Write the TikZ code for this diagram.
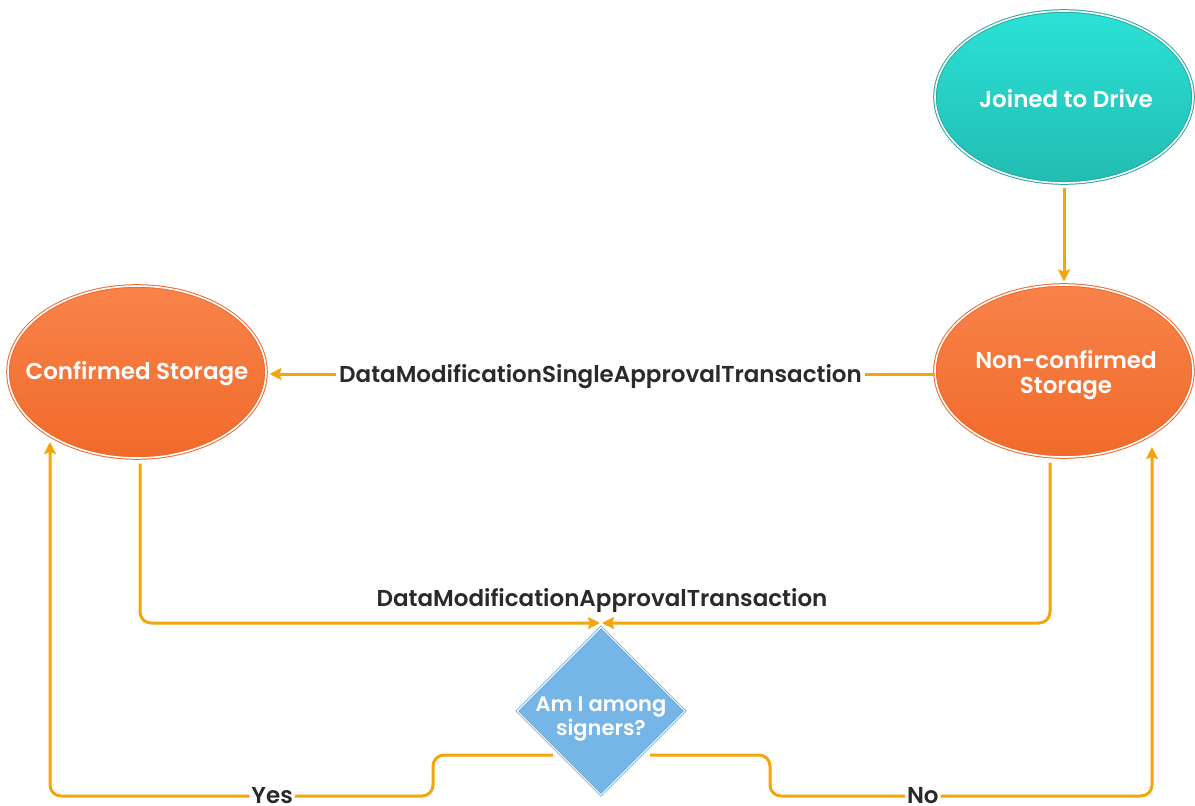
\documentclass[tikz,border=0pt]{standalone}
\usepackage{fontspec}
\setmainfont{Poppins}[UprightFont={* SemiBold}, BoldFont={* Bold}]
\usetikzlibrary{shapes.geometric,arrows.meta,calc}

\definecolor{conncol}{HTML}{F2A50C}
\definecolor{orgtop}{HTML}{F8834A}
\definecolor{orgbot}{HTML}{F16A2A}
\definecolor{orgline}{HTML}{EE6A30}
\definecolor{tealtop}{HTML}{2BE2D6}
\definecolor{tealbot}{HTML}{22BCB2}
\definecolor{tealline}{HTML}{2AA9A0}
\definecolor{diafill}{HTML}{76B6E6}
\definecolor{dialine}{HTML}{5CA2D8}
\definecolor{labelcol}{HTML}{2A2A2A}

\tikzset{
  txt/.style={font=\fontsize{23}{25}\selectfont},
  state/.style={ellipse, inner xsep=-35pt, inner ysep=0pt,
    minimum width=258pt, minimum height=172pt,
    double=white, double distance=1.6pt, line width=1pt},
  statetext/.style={text=white, txt, align=center},
  orangestate/.style={state, draw=orgline, top color=orgtop, bottom color=orgbot},
  tealstate/.style={state, draw=tealline, top color=tealtop, bottom color=tealbot},
  decision/.style={diamond, aspect=1, inner sep=0pt, minimum width=168pt, minimum height=168pt,
    draw=dialine, double=white, double distance=1.2pt, line width=0.7pt, fill=diafill},
  conn/.style={draw=conncol, line width=3pt, rounded corners=11pt},
  tip/.style={-{Stealth[length=12pt,width=12pt,inset=2pt]}},
  edgelabel/.style={fill=white, text=labelcol, inner sep=3pt, txt}
}

\begin{document}
\begin{tikzpicture}[x=1pt,y=-1pt]
  \useasboundingbox (0,0) rectangle (1195,806);

  % states
  \node[tealstate]   (joined) at (1064,97)  {};
  \node[orangestate] (noncon) at (1064,371) {};
  \node[orangestate] (conf)   at (137,372)  {};
  \node[decision]    (dec)    at (601,711)  {};

  % state captions
  \node[statetext] (joinedtext) at (1066,99)  {Joined to Drive};
  \node[statetext] (noncontext) at (1066,375) {Non-confirmed\\Storage};
  \node[statetext] (conftext)   at (137,374)  {Confirmed Storage};
  \node[text=white, font=\fontsize{21}{24}\selectfont, align=center] (dectext) at (601,719) {Am I among\\signers?};

  % meeting point above the decision
  \coordinate (meet) at (601,623);

  % joined -> non-confirmed
  \draw[conn,tip,shorten <=4pt,shorten >=3pt] (joined.south) -- (noncon.north);

  % single approval: non-confirmed -> confirmed
  \draw[conn,tip,shorten >=3pt] ([yshift=-3pt]noncon.west) -- node[edgelabel, yshift=-3pt]{DataModificationSingleApprovalTransaction} ([yshift=-2pt]conf.east);

  % approval transaction from both storages into the decision
  \draw[conn,tip] ([xshift=3pt,yshift=-5pt]conf.south) |- ([xshift=-1pt]meet);
  \draw[conn,tip] ([xshift=-14pt,yshift=-5pt]noncon.south) |- ([xshift=1pt]meet);
  \node[text=labelcol, txt] (apprlabel) at (602,601) {DataModificationApprovalTransaction};

  % yes / no branches
  \coordinate (yesstart) at ($(dec.center)+(-48,44)$);
  \coordinate (yesend)   at ($(conf.center)+(-87,70)$);
  \coordinate (nostart)  at ($(dec.center)+(49,44)$);
  \coordinate (noend)    at ($(noncon.center)+(88,76)$);

  \draw[conn,tip] (yesstart) -- ++(-120,0) -- ++(0,41) -- (yesend |- 0,796)
     node[edgelabel, pos=0.42, inner sep=2pt]{Yes} -- (yesend);
  \draw[conn,tip] (nostart) -- ++(120,0) -- ++(0,41) -- (noend |- 0,796)
     node[edgelabel, pos=0.4, inner sep=2pt]{No} -- (noend);
\end{tikzpicture}
\end{document}
